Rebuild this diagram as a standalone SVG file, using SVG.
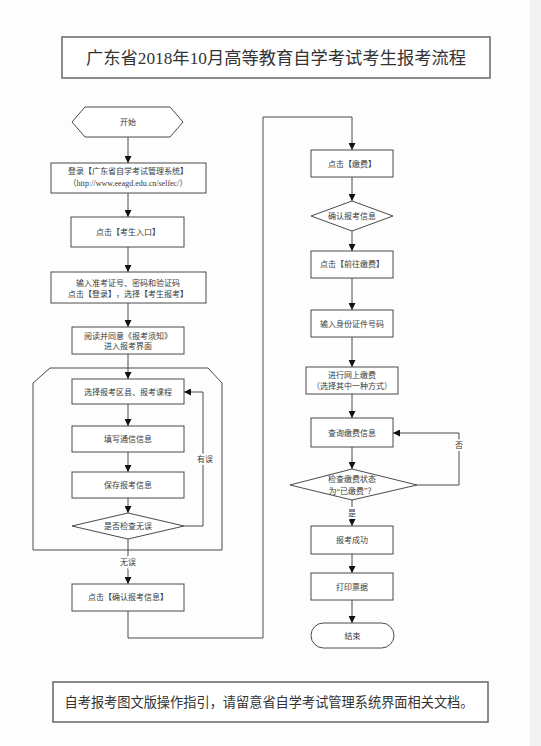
<svg xmlns="http://www.w3.org/2000/svg" width="541" height="746" viewBox="0 0 541 746">
<style>
.n{fill:#fff;stroke:#4a4a4a;stroke-width:1}
.t{font-family:"Liberation Serif","Noto Sans CJK SC",serif;font-size:8px;fill:#3a3a3a;text-anchor:middle;dominant-baseline:central}
.c{fill:none;stroke:#4a4a4a;stroke-width:1}
.lb{font-family:"Liberation Serif","Noto Sans CJK SC",serif;font-size:8px;fill:#3a3a3a;text-anchor:middle;dominant-baseline:central;stroke:#fff;stroke-width:4;paint-order:stroke}
.b{font-weight:bold}
</style>
<defs>
<marker id="ah" markerUnits="userSpaceOnUse" markerWidth="7" markerHeight="7" refX="7" refY="3.5" orient="auto">
<path d="M0,0 L7,3.5 L0,7 z" fill="#111"/>
</marker>
</defs>
<rect x="0" y="0" width="541" height="746" fill="#fdfdfd"/>
<rect x="530" y="0" width="11" height="746" fill="#f2f2f2"/>

<g id="title">
<rect x="62" y="37" width="428" height="41" fill="#fff" stroke="#666" stroke-width="1.5"/>
<text x="276" y="58" textLength="380" lengthAdjust="spacingAndGlyphs" style="font-family:'Liberation Serif','Noto Sans CJK SC',serif;font-size:17.5px;fill:#333;text-anchor:middle;dominant-baseline:central">广东省2018年10月高等教育自学考试考生报考流程</text>
</g>

<g id="loop-container">
<path d="M50,368 L208,368 L222,383 L222,550 L33,550 L33,383 Z" fill="none" stroke="#4a4a4a" stroke-width="1"/>
</g>

<g id="connectors">
<path class="c" d="M128,137 V163" marker-end="url(#ah)"/>
<path class="c" d="M128,193 V217" marker-end="url(#ah)"/>
<path class="c" d="M128,247 V272" marker-end="url(#ah)"/>
<path class="c" d="M128,303 V327" marker-end="url(#ah)"/>
<path class="c" d="M128,354 V379" marker-end="url(#ah)"/>
<path class="c" d="M128,404 V426" marker-end="url(#ah)"/>
<path class="c" d="M128,452 V472" marker-end="url(#ah)"/>
<path class="c" d="M128,498 V513" marker-end="url(#ah)"/>
<path class="c" d="M128,538 V584" marker-end="url(#ah)"/>
<path class="c" d="M184,526 H203 V392 H184" marker-end="url(#ah)"/>
<path class="c" d="M128,611 V638 H263 V117 H352 V150" marker-end="url(#ah)"/>
<path class="c" d="M352,177 V201" marker-end="url(#ah)"/>
<path class="c" d="M352,231 V251" marker-end="url(#ah)"/>
<path class="c" d="M352,278 V310" marker-end="url(#ah)"/>
<path class="c" d="M352,337 V367" marker-end="url(#ah)"/>
<path class="c" d="M352,394 V418" marker-end="url(#ah)"/>
<path class="c" d="M352,447 V469" marker-end="url(#ah)"/>
<path class="c" d="M352,500 V526" marker-end="url(#ah)"/>
<path class="c" d="M417,485 H459 V433 H393" marker-end="url(#ah)"/>
<path class="c" d="M352,554 V573" marker-end="url(#ah)"/>
<path class="c" d="M352,600 V623" marker-end="url(#ah)"/>
<text class="lb" x="128" y="562">无误</text>
<text class="lb" x="205" y="459">有误</text>
<text class="lb" x="352" y="513">是</text>
<text class="lb" x="459" y="445">否</text>
</g>

<g id="start">
<polygon class="n" points="72,122 85,107 170,107 183,122 170,137 85,137"/>
<text class="t" x="128" y="122">开始</text>
</g>
<g id="login">
<rect class="n" x="51" y="163" width="155" height="30"/>
<text class="t" x="128" y="171">登录<tspan class="b">【</tspan>广东省自学考试管理系统<tspan class="b">】</tspan></text>
<text class="t" x="128" y="183">（http://www.eeagd.edu.cn/selfec/）</text>
</g>
<g id="entry">
<rect class="n" x="71" y="217" width="113" height="30"/>
<text class="t" x="128" y="232">点击<tspan class="b">【</tspan>考生入口<tspan class="b">】</tspan></text>
</g>
<g id="input-login">
<rect class="n" x="51" y="272" width="155" height="31"/>
<text class="t" x="128" y="283">输入准考证号、密码和验证码</text>
<text class="t" x="128" y="294">点击<tspan class="b">【</tspan>登录<tspan class="b">】</tspan>，选择<tspan class="b">【</tspan>考生报考<tspan class="b">】</tspan></text>
</g>
<g id="read-notice">
<rect class="n" x="72" y="327" width="112" height="27"/>
<text class="t" x="128" y="336">阅读并同意《报考须知》</text>
<text class="t" x="128" y="346">进入报考界面</text>
</g>
<g id="select-course">
<rect class="n" x="72" y="379" width="112" height="25"/>
<text class="t" x="128" y="392">选择报考区县、报考课程</text>
</g>
<g id="fill-contact">
<rect class="n" x="72" y="426" width="112" height="26"/>
<text class="t" x="128" y="439">填写通信信息</text>
</g>
<g id="save-info">
<rect class="n" x="72" y="472" width="112" height="26"/>
<text class="t" x="128" y="485">保存报考信息</text>
</g>
<g id="check-ok">
<polygon class="n" points="72,526 128,513 184,526 128,539"/>
<text class="t" x="128" y="526">是否检查无误</text>
</g>
<g id="confirm-info">
<rect class="n" x="72" y="584" width="112" height="27"/>
<text class="t" x="128" y="597">点击<tspan class="b">【</tspan>确认报考信息<tspan class="b">】</tspan></text>
</g>

<g id="pay">
<rect class="n" x="311" y="150" width="82" height="27"/>
<text class="t" x="352" y="164">点击<tspan class="b">【</tspan>缴费<tspan class="b">】</tspan></text>
</g>
<g id="confirm-diamond">
<polygon class="n" points="311,216 352,201 393,216 352,231"/>
<text class="t" x="352" y="216">确认报考信息</text>
</g>
<g id="goto-pay">
<rect class="n" x="311" y="251" width="82" height="27"/>
<text class="t" x="352" y="264">点击<tspan class="b">【</tspan>前往缴费<tspan class="b">】</tspan></text>
</g>
<g id="input-id">
<rect class="n" x="311" y="310" width="82" height="27"/>
<text class="t" x="352" y="324">输入身份证件号码</text>
</g>
<g id="online-pay">
<rect class="n" x="306" y="367" width="92" height="27"/>
<text class="t" x="352" y="375">进行网上缴费</text>
<text class="t" x="352" y="386">（选择其中一种方式）</text>
</g>
<g id="query-pay">
<rect class="n" x="311" y="418" width="82" height="29"/>
<text class="t" x="352" y="433">查询缴费信息</text>
</g>
<g id="check-paid">
<polygon class="n" points="290,485 352,469 417,485 352,500"/>
<text class="t" x="352" y="479">检查缴费状态</text>
<text class="t" x="352" y="491">为“已缴费”？</text>
</g>
<g id="success">
<rect class="n" x="311" y="526" width="82" height="28"/>
<text class="t" x="352" y="540">报考成功</text>
</g>
<g id="print">
<rect class="n" x="311" y="573" width="82" height="27"/>
<text class="t" x="352" y="587">打印票据</text>
</g>
<g id="end">
<rect class="n" x="311" y="623" width="83" height="25" rx="12.5" ry="12.5"/>
<text class="t" x="352.5" y="636">结束</text>
</g>

<g id="note">
<rect x="53" y="682" width="435" height="40" fill="#fff" stroke="#666" stroke-width="1.5"/>
<text x="269" y="702" textLength="409" lengthAdjust="spacingAndGlyphs" style="font-family:'Liberation Serif','Noto Sans CJK SC',serif;font-size:13.5px;fill:#333;text-anchor:middle;dominant-baseline:central">自考报考图文版操作指引，请留意省自学考试管理系统界面相关文档。</text>
</g>
</svg>
